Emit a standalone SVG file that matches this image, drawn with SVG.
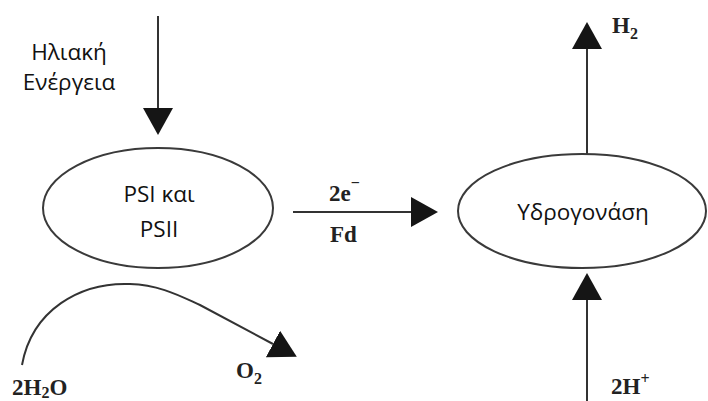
<svg xmlns="http://www.w3.org/2000/svg" width="708" height="401" viewBox="0 0 708 401">
  <style>
    .node { fill: #ffffff; stroke: #3a3a3a; stroke-width: 2; }
    .label { font-family: "Open Sans", "Noto Sans", "DejaVu Sans", sans-serif; font-size: 22.5px; fill: #111111; text-anchor: middle; }
    .chem { font-family: "Liberation Serif", "Times New Roman", serif; font-size: 23px; font-weight: bold; fill: #222222; }
    .sub { font-size: 16px; }
    .edge { fill: none; stroke: #333333; stroke-width: 2; }
  </style>
  <defs>
    <marker id="head" viewBox="0 0 27 30" refX="0" refY="15" markerWidth="27" markerHeight="30" markerUnits="userSpaceOnUse" orient="auto">
      <path d="M0,0 L27,15 L0,30 Z" fill="#151515"/>
    </marker>
  </defs>

  <!-- connectors -->
  <g id="connectors">
    <line class="edge" x1="158" y1="16" x2="158" y2="108" marker-end="url(#head)"/>
    <line class="edge" x1="293" y1="212" x2="411" y2="212" marker-end="url(#head)"/>
    <line class="edge" x1="587" y1="155" x2="587" y2="49" marker-end="url(#head)"/>
    <line class="edge" x1="587" y1="401" x2="587" y2="300" marker-end="url(#head)"/>
    <path class="edge" d="M22,365 C32,310 80,282 130,284 C160,285 180,296 200,305 L273,344" marker-end="url(#head)"/>
  </g>

  <!-- light input label -->
  <g id="solar-energy">
    <text class="label" x="69" y="60">Ηλιακή</text>
    <text class="label" x="69" y="90">Ενέργεια</text>
  </g>

  <!-- photosystems -->
  <g id="photosystems">
    <ellipse class="node" cx="158" cy="208" rx="115" ry="60"/>
    <text class="label" x="159" y="202">PSI και</text>
    <text class="label" x="159" y="237">PSII</text>
  </g>

  <!-- electron transfer label -->
  <g id="electron-transfer">
    <text class="chem" x="329" y="201">2e<tspan class="sub" dy="-13">−</tspan></text>
    <text class="chem" x="330" y="242">Fd</text>
  </g>

  <!-- hydrogenase -->
  <g id="hydrogenase">
    <ellipse class="node" cx="582" cy="211" rx="124" ry="57"/>
    <text class="label" x="583" y="220">Υδρογονάση</text>
  </g>

  <!-- products and substrates -->
  <g id="h2">
    <text class="chem" x="612" y="33">H<tspan class="sub" dy="6">2</tspan></text>
  </g>
  <g id="protons">
    <text class="chem" x="611" y="394">2H<tspan class="sub" dy="-10">+</tspan></text>
  </g>
  <g id="water">
    <text class="chem" x="12" y="395">2H<tspan class="sub" dy="3">2</tspan><tspan dy="-3">O</tspan></text>
  </g>
  <g id="oxygen">
    <text class="chem" x="236" y="378">O<tspan class="sub" dy="6">2</tspan></text>
  </g>
</svg>
